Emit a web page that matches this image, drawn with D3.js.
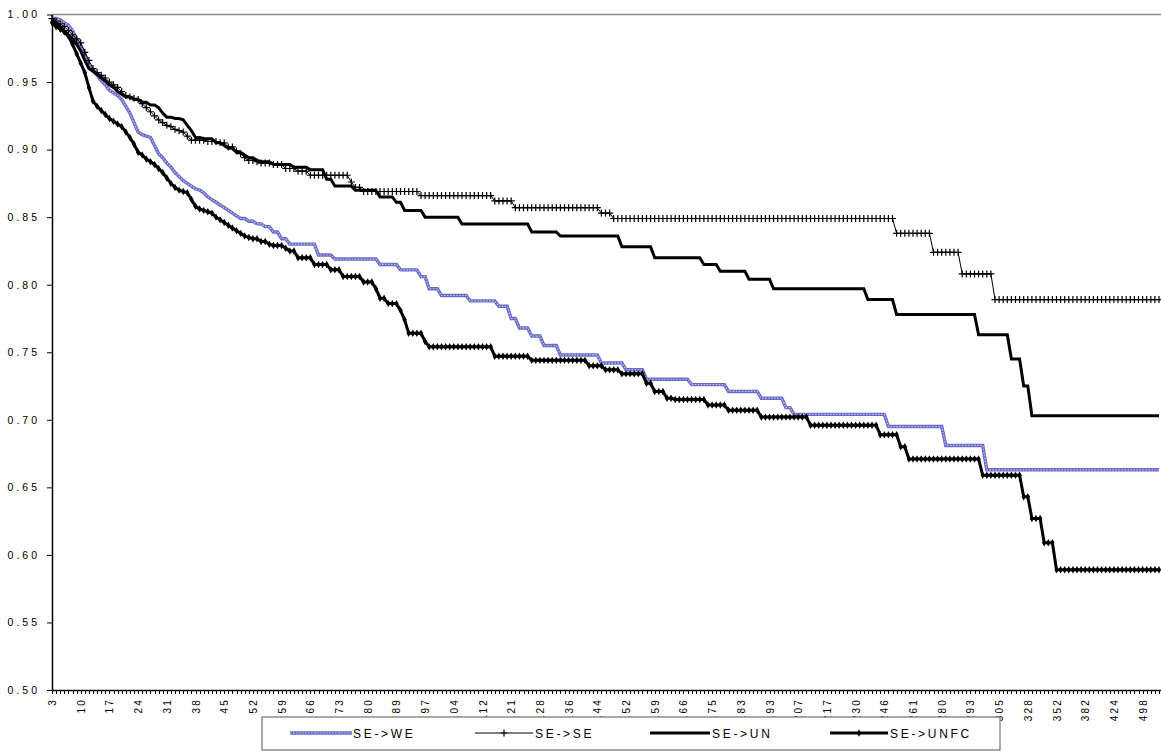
<!DOCTYPE html>
<html><head><meta charset="utf-8">
<script src="https://cdn.jsdelivr.net/npm/d3@7"></script>
<style>
body{margin:0;background:#fff}
svg{display:block}
text{font-family:"Liberation Sans",Arial,sans-serif;fill:#000}
</style>
</head><body>
<svg id="c" width="1161" height="751"></svg>
<script>
// ---- categories (distinct event days) ----
const days = [3,4,5,6,7,8,9,10,11,12,13,14,15,16,17,18,19,20,21,22,23,24,25,26,27,28,29,30,31,32,33,34,35,36,37,38,39,40,41,42,43,44,45,46,47,48,49,50,51,52,53,54,55,56,57,58,59,60,61,62,63,64,65,66,67,68,69,70,71,72,73,74,75,76,77,78,79,80,
81,82,83,85,86,88,89,
90,91,92,93,94,96,97,
98,99,100,101,102,103,104,
105,106,107,109,110,111,112,
113,114,116,117,118,120,121,
122,123,124,125,126,127,128,
129,130,131,133,134,135,136,
137,138,139,141,142,143,144,
145,146,147,149,150,151,152,
153,154,155,156,157,158,159,
160,161,162,163,164,165,166,
167,168,170,171,172,174,175,
176,177,178,180,181,182,183,
184,186,187,189,190,191,193,
195,197,199,201,203,205,207,
208,210,211,213,214,216,217,
219,221,223,225,227,228,230,
232,234,237,239,241,244,246,
248,250,252,255,257,259,261,
263,266,269,272,274,277,280,
282,284,286,288,290,291,293,
295,297,298,300,302,303,305,
308,311,314,318,321,325,328,
331,334,338,342,345,349,352,
356,360,365,369,373,378,382,
388,394,400,406,412,418,424,
432,445,458,470,482,490,498,
512,530,561,602];

const yTicks = [0.50,0.55,0.60,0.65,0.70,0.75,0.80,0.85,0.90,0.95,1.00];
const labelEvery = 7;
const seriesNames = ["SE->WE","SE->SE","SE->UN","SE->UNFC"];

// ---- survival estimates: [category index from which the value holds, value] ----
const seWE = [[0,0.997],[2,0.996],[3,0.994],[4,0.992],[5,0.988],[6,0.982],[7,0.977],[8,0.971],[9,0.962],[10,0.958],[11,0.955],[12,0.951],[13,0.948],[14,0.944],[15,0.942],[16,0.940],[17,0.937],[18,0.932],[19,0.927],[20,0.920],[21,0.913],[22,0.911],[23,0.910],[24,0.909],[25,0.903],[26,0.897],[27,0.894],[28,0.890],[29,0.887],[30,0.883],[31,0.880],[32,0.877],[33,0.875],[34,0.873],[35,0.871],[36,0.870],[37,0.868],[38,0.865],[39,0.863],[40,0.861],[41,0.859],[42,0.857],[43,0.855],[44,0.853],[45,0.851],[46,0.849],[48,0.847],[50,0.845],[52,0.843],[54,0.839],[56,0.834],[58,0.830],[65,0.822],[69,0.819],[80,0.815],[85,0.811],[90,0.806],[92,0.797],[95,0.792],[102,0.788],[109,0.784],[112,0.775],[114,0.768],[117,0.762],[120,0.755],[124,0.748],[134,0.742],[140,0.737],[145,0.730],[156,0.726],[165,0.721],[173,0.716],[179,0.709],[181,0.704],[204,0.695],[218,0.681],[228,0.663]];

const seSE = [[0,0.997],[1,0.995],[2,0.993],[3,0.991],[4,0.988],[5,0.985],[6,0.982],[7,0.979],[8,0.972],[9,0.966],[10,0.960],[11,0.957],[12,0.955],[13,0.953],[14,0.950],[15,0.948],[16,0.946],[17,0.943],[18,0.940],[19,0.939],[20,0.938],[21,0.937],[22,0.934],[23,0.931],[24,0.928],[25,0.925],[26,0.922],[27,0.920],[28,0.918],[29,0.917],[30,0.915],[31,0.914],[32,0.913],[33,0.910],[34,0.907],[38,0.906],[41,0.905],[43,0.902],[45,0.899],[46,0.897],[47,0.894],[48,0.892],[50,0.891],[51,0.890],[54,0.889],[57,0.886],[60,0.884],[63,0.881],[73,0.876],[74,0.872],[76,0.869],[90,0.866],[108,0.862],[113,0.857],[134,0.853],[137,0.849],[206,0.838],[215,0.824],[222,0.808],[230,0.789]];

const seUN = [[0,0.996],[1,0.994],[2,0.991],[3,0.988],[4,0.985],[5,0.982],[6,0.978],[7,0.973],[8,0.966],[9,0.960],[10,0.958],[11,0.956],[12,0.953],[13,0.951],[14,0.948],[15,0.946],[16,0.943],[17,0.941],[18,0.939],[20,0.937],[22,0.935],[24,0.933],[26,0.931],[27,0.927],[28,0.924],[30,0.923],[32,0.922],[33,0.918],[34,0.914],[35,0.909],[37,0.908],[40,0.905],[42,0.903],[43,0.901],[45,0.898],[47,0.896],[48,0.894],[50,0.892],[51,0.891],[54,0.889],[59,0.887],[63,0.885],[67,0.878],[69,0.873],[74,0.870],[80,0.865],[84,0.861],[86,0.855],[91,0.850],[100,0.845],[117,0.839],[124,0.836],[139,0.828],[147,0.820],[159,0.815],[163,0.810],[170,0.804],[176,0.797],[199,0.789],[206,0.778],[226,0.763],[234,0.745],[237,0.725],[239,0.703]];

const seUNFC = [[0,0.994],[1,0.991],[2,0.989],[3,0.987],[4,0.984],[5,0.978],[6,0.971],[7,0.964],[8,0.957],[9,0.946],[10,0.936],[11,0.932],[12,0.929],[13,0.926],[14,0.923],[15,0.921],[16,0.919],[17,0.917],[18,0.913],[19,0.909],[20,0.904],[21,0.898],[22,0.896],[23,0.893],[24,0.891],[25,0.889],[26,0.886],[27,0.883],[28,0.879],[29,0.875],[30,0.872],[31,0.870],[32,0.869],[33,0.868],[34,0.863],[35,0.858],[36,0.856],[37,0.855],[38,0.854],[39,0.853],[40,0.850],[41,0.848],[42,0.846],[43,0.844],[44,0.842],[45,0.840],[46,0.838],[47,0.836],[48,0.835],[49,0.834],[51,0.832],[53,0.830],[54,0.829],[57,0.827],[58,0.825],[60,0.820],[64,0.815],[68,0.811],[71,0.806],[76,0.802],[79,0.797],[80,0.790],[82,0.786],[85,0.781],[86,0.774],[87,0.764],[91,0.758],[92,0.754],[108,0.747],[117,0.744],[131,0.740],[135,0.737],[139,0.734],[145,0.727],[147,0.721],[150,0.716],[152,0.715],[160,0.711],[165,0.707],[173,0.702],[185,0.696],[202,0.689],[207,0.680],[209,0.671],[227,0.659],[237,0.643],[239,0.627],[242,0.609],[245,0.589]];

// Kaplan-Meier estimate holds until the next event
function atCategories(bp){
  const out=[]; let k=0;
  for(let i=0;i<days.length;i++){
    while(k+1<bp.length && bp[k+1][0]<=i) k++;
    out.push(bp[k][1]);
  }
  return out;
}

const svg = d3.select("#c");
const L=52, R=1159, T=14.5, B=690;
const idx = d3.range(days.length);
const x = d3.scalePoint().domain(idx).range([L,R]);
const y = d3.scaleLinear().domain([0.5,1]).range([B,T]);

// top border
svg.append("line").attr("x1",L).attr("x2",1161).attr("y1",T).attr("y2",T)
  .attr("stroke","#8a8a8a").attr("stroke-width",1.5);

// y axis
const gy = svg.append("g").attr("transform",`translate(${L},0)`)
  .call(d3.axisLeft(y).tickValues(yTicks).tickSize(5).tickSizeOuter(0).tickPadding(7).tickFormat(d3.format(".2f")));
gy.select(".domain").attr("stroke","#000").attr("stroke-width",1.5);
gy.selectAll(".tick line").attr("stroke","#000");
gy.selectAll("text").style("font-size","10.5px").style("letter-spacing","3px")
  .style("font-family","'Liberation Sans',Arial,sans-serif").attr("fill","#000");

// x axis
const gx = svg.append("g").attr("transform",`translate(0,${B})`)
  .call(d3.axisBottom(x).tickSize(4).tickSizeOuter(0)
    .tickFormat(i => i % labelEvery === 0 ? String(days[i]) : ""));
gx.select(".domain").attr("stroke","#000").attr("stroke-width",1.5).attr("d",`M${L},0.5H1161`);
gx.selectAll(".tick line").attr("stroke","#000").attr("stroke-width",1).attr("shape-rendering","crispEdges");
gx.selectAll("text")
  .attr("transform","rotate(-90)").attr("y",0).attr("x",-8).attr("dy","0.35em")
  .style("text-anchor","end").style("font-size","10px").style("letter-spacing","2.2px")
  .style("font-family","'Liberation Sans',Arial,sans-serif").attr("fill","#000");

const line = d3.line().x((d,i)=>x(i)).y(d=>y(d));
const vWE = atCategories(seWE), vSE = atCategories(seSE), vUN = atCategories(seUN), vUNFC = atCategories(seUNFC);

// SE->WE: textured blue
svg.append("path").datum(vWE).attr("d",line).attr("fill","none")
  .attr("stroke","#6a6ac6").attr("stroke-width",3.4);
svg.append("path").datum(vWE).attr("d",line).attr("fill","none")
  .attr("stroke","#c4c4f0").attr("stroke-width",1.2).attr("stroke-dasharray","1.5,1.5");

// SE->SE: thin with plus markers
svg.append("path").datum(vSE).attr("d",line).attr("fill","none")
  .attr("stroke","#000").attr("stroke-width",1);
svg.append("g").selectAll("path").data(vSE).join("path")
  .attr("transform",(d,i)=>`translate(${x(i)},${y(d)})`)
  .attr("d","M-3.5,0H3.5M0,-3.5V3.5").attr("stroke","#000").attr("stroke-width",1.2);

// SE->UN: thick
svg.append("path").datum(vUN).attr("d",line).attr("fill","none")
  .attr("stroke","#000").attr("stroke-width",3);

// SE->UNFC: thick with diamonds
svg.append("path").datum(vUNFC).attr("d",line).attr("fill","none")
  .attr("stroke","#000").attr("stroke-width",3);
const diamond = d3.symbol(d3.symbolDiamond).size(16)();
svg.append("g").selectAll("path").data(vUNFC).join("path")
  .attr("transform",(d,i)=>`translate(${x(i)},${y(d)})`)
  .attr("d",diamond).attr("fill","#000");

// legend
const lg = svg.append("g");
lg.append("rect").attr("x",262).attr("y",717).attr("width",738).attr("height",33)
  .attr("fill","#fff").attr("stroke","#555").attr("stroke-width",1);
const ly = 733;
const items = [
  {name:seriesNames[0], x1:290, x2:352, tx:353},
  {name:seriesNames[1], x1:475, x2:533, tx:535},
  {name:seriesNames[2], x1:650, x2:710, tx:712},
  {name:seriesNames[3], x1:830, x2:888, tx:890}
];
lg.append("line").attr("x1",items[0].x1).attr("x2",items[0].x2).attr("y1",ly).attr("y2",ly)
  .attr("stroke","#6a6ac6").attr("stroke-width",3.4);
lg.append("line").attr("x1",items[0].x1).attr("x2",items[0].x2).attr("y1",ly).attr("y2",ly)
  .attr("stroke","#c4c4f0").attr("stroke-width",1.2).attr("stroke-dasharray","1.5,1.5");
lg.append("line").attr("x1",items[1].x1).attr("x2",items[1].x2).attr("y1",ly).attr("y2",ly)
  .attr("stroke","#000").attr("stroke-width",1);
lg.append("path").attr("transform",`translate(${(items[1].x1+items[1].x2)/2},${ly})`)
  .attr("d","M-3.5,0H3.5M0,-3.5V3.5").attr("stroke","#000").attr("stroke-width",1.2);
lg.append("line").attr("x1",items[2].x1).attr("x2",items[2].x2).attr("y1",ly).attr("y2",ly)
  .attr("stroke","#000").attr("stroke-width",3);
lg.append("line").attr("x1",items[3].x1).attr("x2",items[3].x2).attr("y1",ly).attr("y2",ly)
  .attr("stroke","#000").attr("stroke-width",3);
lg.append("path").attr("transform",`translate(${(items[3].x1+items[3].x2)/2},${ly})`)
  .attr("d",diamond).attr("fill","#000");
lg.selectAll("text.lt").data(items).join("text").attr("class","lt")
  .attr("x",d=>d.tx).attr("y",ly+4.5).text(d=>d.name)
  .style("font-size","12px").style("letter-spacing","2.7px");
</script>
</body></html>
